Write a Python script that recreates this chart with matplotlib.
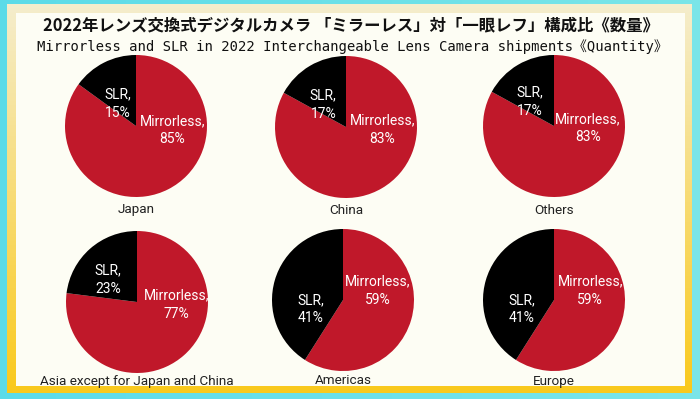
import numpy as np
import matplotlib.pyplot as plt
from matplotlib.patches import Rectangle

# data
regions = ['Japan', 'China', 'Others',
           'Asia except for Japan and China', 'Americas', 'Europe']
mirrorless = [85, 83, 83, 77, 59, 59]
slr = [15, 17, 17, 23, 41, 41]

title_jp = '2022年レンズ交換式デジタルカメラ 「ミラーレス」対「一眼レフ」構成比《数量》'
title_en = 'Mirrorless and SLR in 2022 Interchangeable Lens Camera shipments《Quantity》'

# layout (pixels)
centers = [(136, 126), (346, 127), (554, 126),
           (137, 302), (343, 300), (554, 300)]
R = 71
name_y = [210, 210, 210, 381, 381, 381]
m_off = [(0.51, -0.06), (0.51, -0.04), (0.48, -0.03),
         (0.56, -0.04), (0.49, 0.13), (0.51, 0.13)]
s_off = [(-0.25, 0.31), (-0.32, 0.31), (-0.34, 0.34),
         (-0.41, 0.31), (-0.46, -0.13), (-0.46, -0.13)]

RED = '#C0182A'
W, H = 700, 399

fig = plt.figure(figsize=(7, 3.99), dpi=100)
fig.patch.set_facecolor('#63DCE6')

bg = fig.add_axes([0, 0, 1, 1])
bg.axis('off')

# cyan backdrop with a soft gradient
cy = np.linspace(0, 1, 50)[None, :]
cyan = np.zeros((1, 50, 3))
cyan[..., 0] = 0.36 + 0.12 * cy
cyan[..., 1] = 0.86 + 0.04 * cy
cyan[..., 2] = 0.91
bg.imshow(cyan, extent=(0, W, H, 0), aspect='auto', zorder=0)

# yellow frame, pale at top, strong at bottom
t = np.linspace(0, 1, 100)[:, None]
top = np.array([0.96, 0.93, 0.80])
bot = np.array([0.98, 0.79, 0.11])
grad = (top * (1 - t) + bot * t)[:, None, :]
bg.imshow(grad, extent=(7, 692, 393, 4), aspect='auto', zorder=1)
bg.add_patch(Rectangle((16, 13), 669, 373, facecolor='#FDFDF4',
                       edgecolor='none', zorder=2))
bg.set_xlim(0, W)
bg.set_ylim(H, 0)

bg.text(351, 25, title_jp, ha='center', va='center', fontsize=11.8,
        fontweight='bold', color='#111111',
        family=['Noto Sans CJK JP', 'DejaVu Sans'], zorder=3)
bg.text(352, 47, title_en, ha='center', va='center', fontsize=10,
        color='#111111', family=['DejaVu Sans Mono', 'Noto Sans CJK JP'],
        zorder=3)

for i, name in enumerate(regions):
    cx, cyy = centers[i]
    ax = fig.add_axes([(cx - R) / W, 1 - (cyy + R) / H, 2 * R / W, 2 * R / H])
    ax.pie([mirrorless[i], slr[i]], colors=[RED, 'black'], startangle=90,
           counterclock=False, radius=1, wedgeprops=dict(linewidth=0))
    ax.set_xlim(-1, 1)
    ax.set_ylim(-1, 1)
    ax.set_aspect('equal')
    ax.axis('off')
    ax.text(m_off[i][0], m_off[i][1], f'Mirrorless,\n{mirrorless[i]}%',
            ha='center', va='center', color='white', fontsize=10,
            family='Roboto', linespacing=1.4)
    ax.text(s_off[i][0], s_off[i][1], f'SLR,\n{slr[i]}%',
            ha='center', va='center', color='white', fontsize=10,
            family='Roboto', linespacing=1.4)
    bg.text(cx, name_y[i], name, ha='center', va='center', fontsize=9.7,
            color='#222222', family='Roboto', zorder=3)

fig.savefig('out.png', dpi=100)
